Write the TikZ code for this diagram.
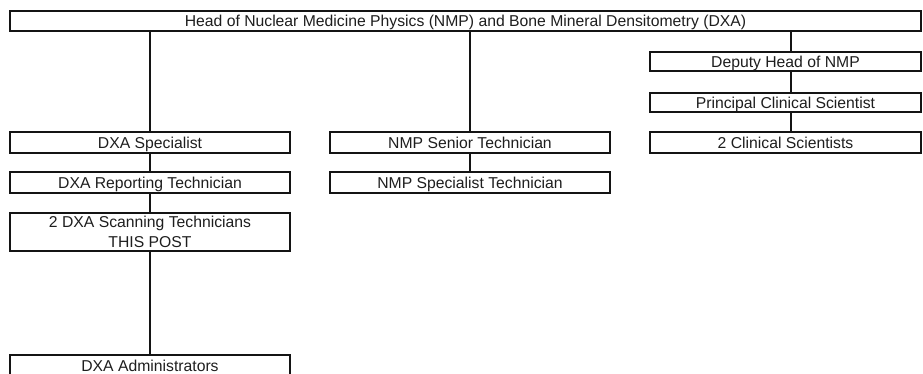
\documentclass[tikz,border=0pt]{standalone}
\usepackage{fontspec}
\setmainfont{Liberation Sans}
\usetikzlibrary{positioning,calc}
\definecolor{boxline}{RGB}{20,20,20}
\definecolor{textcolor}{RGB}{30,30,30}
\tikzset{
orgbox/.style={
  draw=boxline,
  line width=1.3pt,
  fill=white,
  inner sep=0pt,
  minimum width=#1,
  minimum height=15pt,
  align=center,
  text height=8.4pt,
  text depth=0pt,
  font=\fontsize{11.8}{15}\selectfont,
  text=textcolor
},
link/.style={
  draw=boxline,
  line width=1.3pt
}
}
\begin{document}
\begin{tikzpicture}[x=0.75pt,y=-0.75pt]
  \useasboundingbox[fill=white] (0,0) rectangle (923,374);

  % top
  \node[orgbox=683.25pt] (head) at (465.5,21) {Head of Nuclear Medicine Physics (NMP) and Bone Mineral Densitometry (DXA)};

  % right column
  \node[orgbox=203.25pt, minimum height=14.25pt] (deputy) at (785.5,61.5) {Deputy Head of NMP};
  \node[orgbox=203.25pt, minimum height=14.25pt] (principal) at (785.5,102.5) {Principal Clinical Scientist};
  \node[orgbox=203.25pt, minimum height=15.75pt] (clinsci) at (785.5,142.5) {2 Clinical Scientists};

  % left column
  \node[orgbox=210pt, minimum height=15.75pt] (dxaspec) at (150,142.5) {DXA Specialist};
  \node[orgbox=210pt, minimum height=15.75pt] (dxarep) at (150,182.5) {DXA Reporting Technician};
  \node[orgbox=210pt, minimum height=28.5pt, text height=23.4pt] (dxascan) at (150,232) {2 DXA Scanning Technicians\\THIS POST};
  \node[orgbox=210pt, minimum height=15.75pt] (dxaadmin) at (150,365.5) {DXA Administrators};

  % middle column
  \node[orgbox=210pt, minimum height=15.75pt] (nmpsenior) at (470,142.5) {NMP Senior Technician};
  \node[orgbox=210pt, minimum height=15.75pt] (nmpspec) at (470,182.5) {NMP Specialist Technician};

  \draw[link] (head.south -| dxaspec.north) -- (dxaspec.north);
  \draw[link] (head.south -| nmpsenior.north) -- (nmpsenior.north);
  \draw[link] ($(head.south -| deputy.north)+(5.5,0)$) -- ($(deputy.north)+(5.5,0)$);

  \draw[link] ($(deputy.south)+(5.5,0)$) -- ($(principal.north)+(5.5,0)$);
  \draw[link] ($(principal.south)+(5.5,0)$) -- ($(clinsci.north)+(5.5,0)$);
  \draw[link] (dxaspec) -- (dxarep);
  \draw[link] (dxarep) -- (dxascan);
  \draw[link] (dxascan) -- (dxaadmin);
  \draw[link] (nmpsenior) -- (nmpspec);
\end{tikzpicture}
\end{document}
